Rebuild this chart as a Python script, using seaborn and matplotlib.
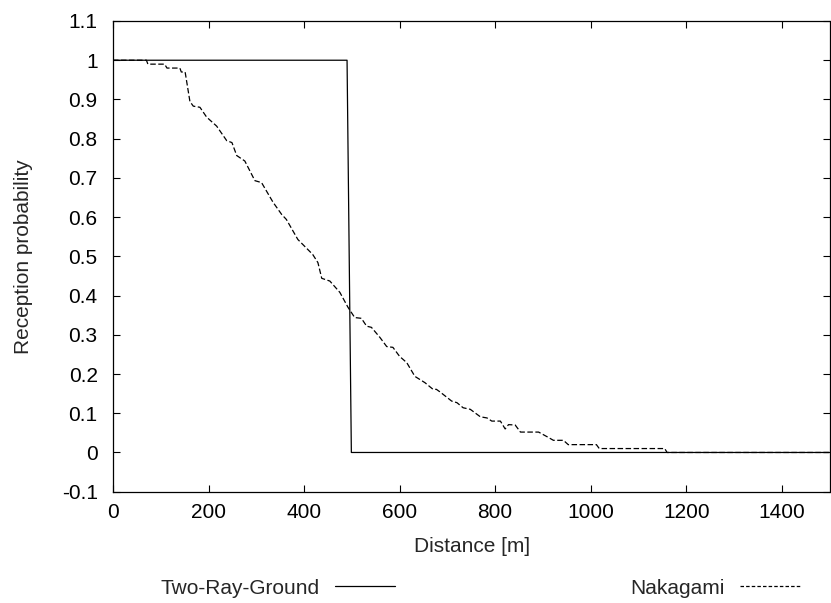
import matplotlib
matplotlib.use("Agg")
import matplotlib.pyplot as plt
import seaborn as sns
from matplotlib.lines import Line2D

# ---- data ----
tworay_x = [0, 490, 499, 1500]
tworay_y = [1.0, 1.0, 0.0, 0.0]

naka_x = [0, 70, 73, 108, 113, 140, 143, 151, 161, 168, 182, 196, 217, 238, 249,
          259, 276, 297, 311, 335, 353, 363, 387, 418, 429, 437, 454, 475, 492,
          506, 520, 531, 541, 559, 573, 586, 600, 615, 632, 653, 670, 677, 685,
          709, 720, 733, 748, 769, 783, 793, 811, 821, 828, 842, 853, 891, 909,
          922, 943, 953, 1012, 1018, 1155, 1160, 1500]
naka_y = [1.0, 1.0, 0.99, 0.99, 0.98, 0.98, 0.97, 0.97, 0.895, 0.883, 0.88, 0.855,
          0.832, 0.795, 0.79, 0.757, 0.743, 0.693, 0.688, 0.638, 0.607, 0.594,
          0.543, 0.505, 0.484, 0.444, 0.437, 0.408, 0.37, 0.344, 0.342, 0.322,
          0.319, 0.293, 0.27, 0.268, 0.245, 0.229, 0.194, 0.178, 0.161, 0.161,
          0.154, 0.131, 0.127, 0.114, 0.11, 0.091, 0.088, 0.08, 0.08, 0.06, 0.071,
          0.07, 0.052, 0.052, 0.04, 0.031, 0.031, 0.02, 0.02, 0.01, 0.01, 0.0, 0.0]

x_ticks = [0, 200, 400, 600, 800, 1000, 1200, 1400]
x_labels = ["0", "200", "400", "600", "800", "1000", "1200", "1400"]
y_ticks = [-0.1, 0, 0.1, 0.2, 0.3, 0.4, 0.5, 0.6, 0.7, 0.8, 0.9, 1.0, 1.1]
y_labels = ["-0.1", "0", "0.1", "0.2", "0.3", "0.4", "0.5", "0.6", "0.7", "0.8",
            "0.9", "1", "1.1"]
series_names = ["Two-Ray-Ground", "Nakagami"]

# ---- style ----
sns.set_style("white")
plt.rcParams["font.family"] = ["Liberation Sans", "DejaVu Sans"]
FS = 15

W, H = 831, 603
fig = plt.figure(figsize=(W / 100, H / 100), dpi=100)
L, R, T, B = 113, 829.5, 21, 491.7
ax = fig.add_axes([L / W, 1 - B / H, (R - L) / W, (B - T) / H])

lw = 0.9
dash = (0, (4.4, 2.0))
sns.lineplot(x=tworay_x, y=tworay_y, ax=ax, color="black", linewidth=lw,
             estimator=None, sort=False)
sns.lineplot(x=naka_x, y=naka_y, ax=ax, color="black", linewidth=lw,
             linestyle=dash, estimator=None, sort=False)

ax.set_xlim(0, 1500)
ax.set_ylim(-0.1, 1.1)
ax.set_xticks(x_ticks)
ax.set_xticklabels(x_labels)
ax.set_yticks(y_ticks)
ax.set_yticklabels(y_labels)
ax.tick_params(axis="both", which="major", direction="in", length=5, width=0.8,
               labelsize=FS, colors="black", top=True, right=True,
               bottom=True, left=True)
ax.tick_params(axis="x", pad=8)
ax.tick_params(axis="y", pad=11)
for s in ax.spines.values():
    s.set_visible(True)
    s.set_color("black")
    s.set_linewidth(0.9)

ax.set_xlabel("Distance [m]", fontsize=FS, va="center")
ax.xaxis.set_label_coords(0.5007, (B - 546) / (B - T))
ax.set_ylabel("Reception probability", fontsize=FS, va="center")
ax.yaxis.set_label_coords((24 - L) / (R - L), 0.5)

if ax.get_legend() is not None:
    ax.get_legend().remove()

h1 = Line2D([], [], color="black", linewidth=lw)
h2 = Line2D([], [], color="black", linewidth=lw, linestyle=(0, (2.8, 1.7)))
yl = 1 - 588 / H
common = dict(frameon=False, markerfirst=False, fontsize=FS, handlelength=2.88,
              handletextpad=0.72, borderpad=0, borderaxespad=0, loc="center right")
leg1 = fig.legend([h1], [series_names[0]], bbox_to_anchor=(395 / W, yl), **common)
leg2 = fig.legend([h2], [series_names[1]], bbox_to_anchor=(800 / W, yl), **common)

fig.savefig("out.png", dpi=100, facecolor="white")
